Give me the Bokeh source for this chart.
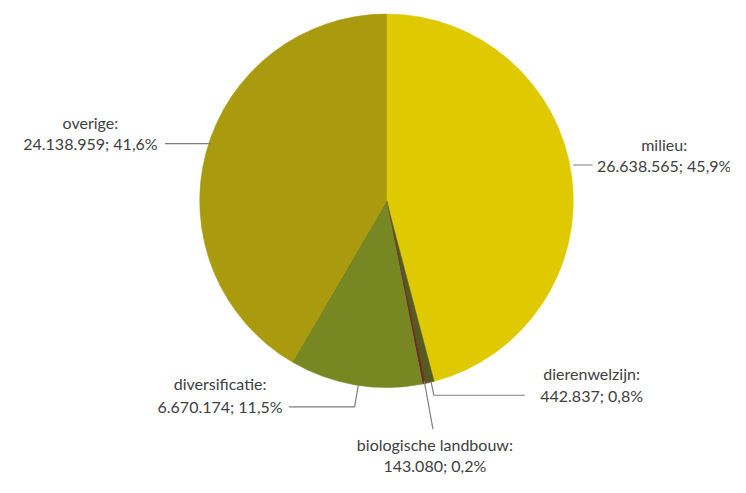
import math
from bokeh.plotting import figure
from bokeh.models import Range1d, ColumnDataSource
from bokeh.core.properties import value
from bokeh.embed import file_html
from bokeh.resources import INLINE

# ---- data ----
categories = ["milieu", "dierenwelzijn", "biologische landbouw", "diversificatie", "overige"]
amounts = [26638565, 442837, 143080, 6670174, 24138959]
colors = ["#DFC900", "#555A1E", "#6B2E1E", "#778722", "#A99B0D"]

# ---- layout (reference pixel coordinates, y downward) ----
REF_W, REF_H = 746, 493
W, H = 730, 477
S = H / REF_H
CX, CY, R = 394, 207, 193
X0 = CX - (CX - 8) / S  # keep the pie centre at the same screen x as the reference

# label centre positions (name line, value line) and leader polylines
label_pos = {
    "milieu": ((681, 149), (681, 171)),
    "dierenwelzijn": ((606, 385), (606, 408)),
    "biologische landbouw": ((444, 459), (444, 481)),
    "diversificatie": ((222, 396), (222, 420)),
    "overige": ((88, 126), (88, 148)),
}
leaders = {
    "milieu": [(587, 170), (607, 170)],
    "dierenwelzijn": [(440, 394), (443, 408), (537, 408)],
    "biologische landbouw": [(433, 393), (442, 443)],
    "diversificatie": [(365, 397), (361, 420), (293, 420)],
    "overige": [(213, 148), (165, 148)],
}

def fy(py):
    return REF_H - py

total = sum(amounts)
starts, ends = [], []
cum = 0.0
for a in amounts:
    f0 = cum / total
    cum += a
    f1 = cum / total
    # clockwise from 12 o'clock
    starts.append(math.pi / 2 - f1 * 2 * math.pi)
    ends.append(math.pi / 2 - f0 * 2 * math.pi)

def fmt_int(v):
    return f"{v:,}".replace(",", ".")

def fmt_pct(v):
    return f"{100 * v / total:.1f}".replace(".", ",") + "%"

p = figure(width=W, height=H, output_backend="svg", toolbar_location=None,
           x_range=Range1d(X0, X0 + W / S), y_range=Range1d(0, REF_H),
           min_border=0, outline_line_color=None)
p.xaxis.visible = False
p.yaxis.visible = False
p.grid.visible = False
p.background_fill_color = "white"
p.border_fill_color = "white"

src = ColumnDataSource(dict(start=starts, end=ends, color=colors, cat=categories))
p.wedge(x=CX, y=fy(CY), radius=R, start_angle="start", end_angle="end",
        direction="anticlock", fill_color="color", line_color="color",
        line_width=0.6, source=src)

for cat in categories:
    pts = leaders[cat]
    p.line([q[0] for q in pts], [fy(q[1]) for q in pts], line_color="#7F7F7F", line_width=1.2)

tx, ty, tt = [], [], []
for cat, a in zip(categories, amounts):
    (nx, ny), (vx, vy) = label_pos[cat]
    tx += [nx, vx]
    ty += [fy(ny), fy(vy)]
    tt += [cat + ":", f"{fmt_int(a)}; {fmt_pct(a)}"]

p.text(x=tx, y=ty, text=tt, text_align="center", text_baseline="middle",
       text_font=value("Lato"), text_font_size="16px", text_color="#404040")

open("out.html", "w").write(file_html(p, INLINE))
